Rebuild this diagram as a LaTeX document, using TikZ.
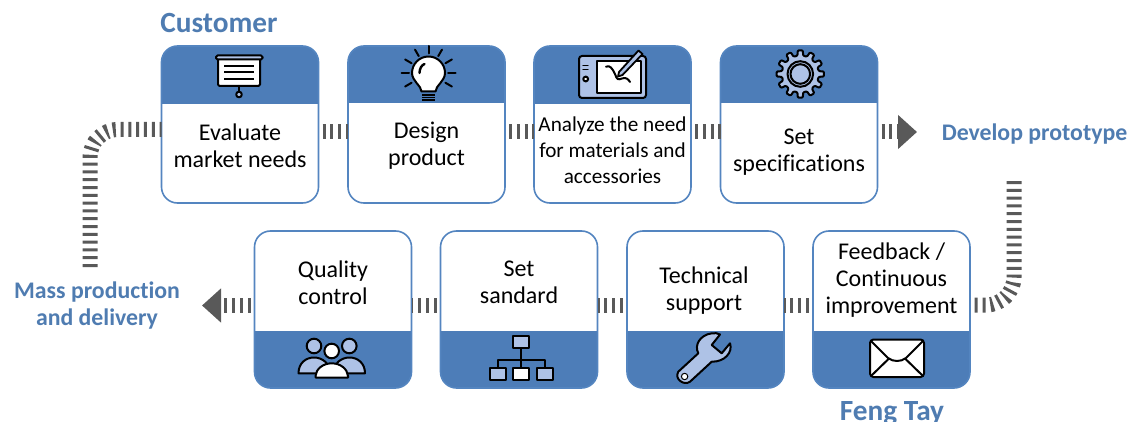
\documentclass[tikz,border=0pt]{standalone}
\usepackage{fontspec}
\setmainfont[Ligatures=NoCommon]{Carlito}
\usetikzlibrary{arrows.meta}
\definecolor{hdr}{HTML}{4D7DB8}
\definecolor{edge}{HTML}{5485C0}
\definecolor{ttl}{HTML}{4F7CB1}
\definecolor{ltb}{HTML}{AEC2E6}
\definecolor{conn}{HTML}{595959}
\tikzset{
  card/.style={draw=edge,line width=1.6pt,fill=white,rounded corners=16pt,minimum width=157pt,minimum height=157pt,inner sep=0pt,outer sep=0pt},
  cardtop/.style={card,path picture={\fill[hdr,sharp corners] (path picture bounding box.north west) rectangle ([yshift=-#1]path picture bounding box.north east);}},
  cardbot/.style={card,path picture={\fill[hdr,sharp corners] (path picture bounding box.south west) rectangle ([yshift=#1]path picture bounding box.south east);}},
  label/.style={align=center,inner sep=0pt,font=\fontsize{24}{27}\selectfont,text=black},
  ttlb/.style={align=center,inner sep=0pt,text=ttl,font=\fontsize{23.8}{27}\selectfont\bfseries},
  dashes/.style={draw=conn,line width=15pt,dash pattern=on 3pt off 4.8pt,dash phase=#1},
  dashes/.default={3.8pt},
  head/.style={-{Triangle[length=19pt,width=33pt,fill=conn]}},
  icon/.style={draw=black,line width=2pt,line join=round,line cap=round},
}
\begin{document}
\begin{tikzpicture}[x=1pt,y=-1pt]
\useasboundingbox (0,0) rectangle (1131,422);
% cards
\node[cardtop=58pt] (b1) at (240,124.5) {};
\node[cardtop=57pt] (b2) at (426.5,124.5) {};
\node[cardtop=58pt] (b3) at (612.5,124.5) {};
\node[cardtop=57pt] (b4) at (799,124.5) {};
\node[cardbot=57pt] (b5) at (333,309.5) {};
\node[cardbot=57pt] (b6) at (519,309.5) {};
\node[cardbot=57pt] (b7) at (705.5,309.5) {};
\node[cardbot=57pt] (b8) at (891.5,309.5) {};
% card texts
\node[label] (t1) at (240,145.3) {Evaluate\\market needs};
\node[label] (t2) at (426.5,145.3) {Design\\product};
\node[label,font=\fontsize{21.2}{26}\selectfont] (t3) at (612.5,150) {Analyze the need\\for materials and\\accessories};
\node[label] (t4) at (799,152) {Set\\specifications};
\node[label] (t5) at (333,282.5) {Quality\\control};
\node[label] (t6) at (519,282) {Set\\sandard};
\node[label] (t7) at (704,290.5) {Technical\\support};
\node[label] (t8) at (891.5,280) {Feedback /\\Continuous\\improvement};
% titles
\node[ttlb,font=\fontsize{29.3}{30}\selectfont\bfseries] (customer) at (219,23.5) {Customer};
\node[ttlb] (proto) at (1034.5,134) {Develop prototype};
\node[ttlb] (mass) at (97,306) {Mass production\\and delivery};
\node[ttlb,font=\fontsize{29.3}{30}\selectfont\bfseries] (feng) at (892,413) {Feng Tay};
% connector ends
\coordinate (tipr) at (917,132);
\coordinate (tipl) at (202,305.5);
\coordinate (startr) at (1014,181);
\coordinate (startl) at (90,267);
% connectors
\draw[dashes] ([yshift=-7.5pt]b1.east) -- ([yshift=-7.5pt]b2.west);
\draw[dashes] ([yshift=-7.5pt]b2.east) -- ([yshift=-7.5pt]b3.west);
\draw[dashes] ([yshift=-7.5pt]b3.east) -- ([yshift=-7.5pt]b4.west);
\draw[dashes,head] ([yshift=-7.5pt]b4.east) -- (tipr);
\draw[dashes] (b8.west |- 0,305.5) -- (b7.east |- 0,305.5);
\draw[dashes] (b7.west |- 0,305.5) -- (b6.east |- 0,305.5);
\draw[dashes] (b6.west |- 0,305.5) -- (b5.east |- 0,305.5);
\draw[dashes,head] (b5.west |- 0,305.5) -- (tipl);
\draw[dashes=0pt,rounded corners=28pt] (startr) -- (startr |- 0,305) -- (b8.east |- 0,305);
\draw[dashes=0pt,rounded corners=28pt] (startl) -- (startl |- 0,129.5) -- (b1.west |- 0,129.5);
% icon 1: presentation screen
\draw[icon,fill=white,rounded corners=1.5pt] (218,58) rectangle (260,86);
\draw[icon,fill=ltb,rounded corners=1.5pt] (216,55.5) rectangle (262.5,59.5);
\foreach \yy in {65.7,72.3,79} \draw[icon,line cap=butt] (224,\yy) -- (254,\yy);
\draw[icon] (239,86) -- (239,91);
\draw[icon,fill=ltb] (239,94.5) circle (2.8);
% icon 2: light bulb
\begin{scope}[shift={(428.5,73)}]
\foreach \aa in {0,30,60,90,120,150,180,210,330} \draw[icon] (\aa+180:19.5) -- (\aa+180:27);
\draw[icon,fill=white] (-7,18.5) .. controls (-7,13) and (-16.5,8) .. (-16.5,0) arc (180:360:16.5) .. controls (16.5,8) and (7,13) .. (7,18.5) -- cycle;
\draw[icon,line width=2.4pt] (-9,0) .. controls (-9,-4) and (-7,-8) .. (-4,-9);
\foreach \yy in {22,24.7,27.3} \draw[icon,line width=1.6pt,line cap=butt] (-6.7,\yy) -- (6.7,\yy);
\end{scope}
% icon 3: tablet
\draw[icon,fill=ltb,rounded corners=3pt] (579,56) rectangle (646,98);
\draw[icon,fill=white] (597,61) rectangle (641,93.5);
\draw[icon,line width=1.4pt] (583,65.7) -- (588,65.7) (583,69.3) -- (588,69.3);
\draw[icon,fill=white] (585.7,79) circle (2.4);
\draw[icon,line width=2pt] (606,66.7) .. controls (610,65) and (612,68) .. (615,74) .. controls (617,80) and (618,80) .. (622,78.5) .. controls (626,77) and (628,79) .. (630,82);
\draw[icon,fill=ltb,line width=1.8pt] (619,72) -- (638.5,50.5) -- (642.5,54) -- (622.5,75) -- (618,76.5) -- cycle;
% icon 4: gear
\begin{scope}[shift={(800.3,74)}]
\draw[icon,fill=ltb,rounded corners=1pt] (-9:18.5) \foreach \aa in {0,30,...,330} { -- (\aa-9:18.5) -- (\aa-6:23.8) -- (\aa+6:23.8) -- (\aa+9:18.5) } -- cycle;
\draw[icon,fill=none] (0,0) circle (12.8);
\draw[icon,fill=ltb] (0,0) circle (9.8);
\end{scope}
% icon 5: people
\draw[icon,fill=ltb] (314,346) circle (7.3);
\draw[icon,fill=ltb] (349.3,346) circle (7.3);
\draw[icon,fill=ltb] (298.5,373.3) .. controls (298.5,363) and (306,357.5) .. (314,357.5) .. controls (322,357.5) and (330,363) .. (330,373.3) -- cycle;
\draw[icon,fill=ltb] (365,373.3) .. controls (365,363) and (357.5,357.5) .. (349.5,357.5) .. controls (341.5,357.5) and (333.5,363) .. (333.5,373.3) -- cycle;
\draw[icon,fill=white] (331.7,351) circle (7.3);
\draw[icon,fill=white] (315.5,377.5) -- (315.5,376) .. controls (316,369) and (323,363.3) .. (331.7,363.3) .. controls (340.5,363.3) and (347.5,369) .. (348,376) -- (348,377.5) -- cycle;
% icon 6: org chart
\draw[icon,line cap=butt] (521.3,348) -- (521.3,368) (498,368) -- (498,360) -- (544.8,360) -- (544.8,368);
\draw[icon,fill=ltb] (513.3,336) rectangle (529.3,348.3);
\draw[icon,fill=ltb] (490,368.3) rectangle (505.7,380);
\draw[icon,fill=white] (513.3,368.3) rectangle (529.3,380);
\draw[icon,fill=ltb] (536.7,368.3) rectangle (552.7,380);
% icon 7: wrench
\draw[icon,fill=ltb] (678.3,371.7) -- (698.3,353.3) .. controls (694,345) and (700,335) .. (711.7,333.3) .. controls (715,333) and (718,333) .. (720,334.5) -- (711.7,345) -- (721.7,353.3) -- (730,343.3) .. controls (733,352) and (725,362) .. (711.7,361.7) -- (690,381.7) .. controls (684,386) and (674,379) .. (678.3,371.7) -- cycle;
\draw[icon,fill=white,line width=1pt,draw=black] (684.6,376.5) circle (3.2);
% icon 8: envelope
\draw[icon,fill=white,rounded corners=3.5pt] (870,339.5) rectangle (924,377);
\draw[icon] (871,341) -- (888,358) .. controls (893,362) and (901,362) .. (906,358) -- (923,341);
\draw[icon] (871,376) -- (889,358.5) (923,376) -- (905,358.5);
\end{tikzpicture}
\end{document}
